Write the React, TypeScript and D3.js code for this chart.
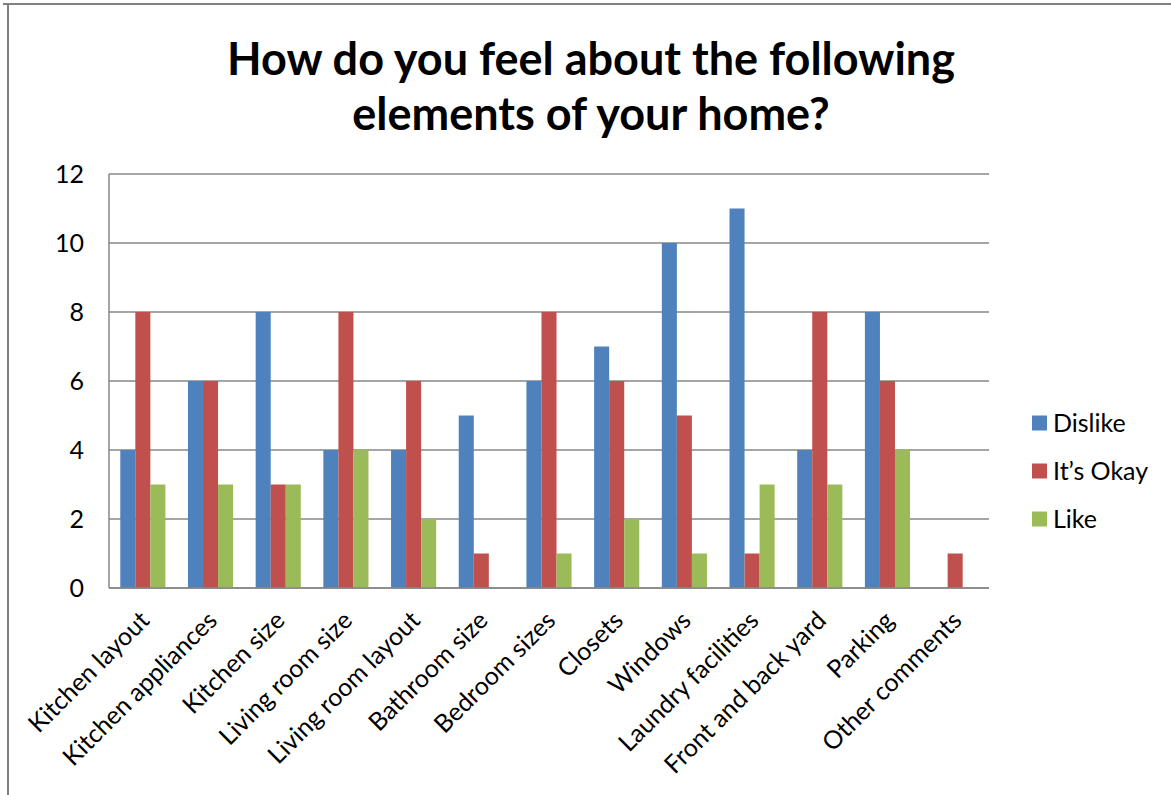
import React from "react";
import * as d3 from "d3";

const categories = [
  "Kitchen layout",
  "Kitchen appliances",
  "Kitchen size",
  "Living room size",
  "Living room layout",
  "Bathroom size",
  "Bedroom sizes",
  "Closets",
  "Windows",
  "Laundry facilities",
  "Front and back yard",
  "Parking",
  "Other comments",
];
const seriesNames = ["Dislike", "It\u2019s Okay", "Like"];
const dislike = [4, 6, 8, 4, 4, 5, 6, 7, 10, 11, 4, 8, 0];
const okay = [8, 6, 3, 8, 6, 1, 8, 6, 5, 1, 8, 6, 1];
const like = [3, 3, 3, 4, 2, 0, 1, 2, 1, 3, 3, 4, 0];
const seriesValues = [dislike, okay, like];
const colors = ["#4F81BD", "#C0504D", "#9BBB59"];
const yTicks = [0, 2, 4, 6, 8, 10, 12];
const titleLines = ["How do you feel about the following", "elements of your home?"];

const W = 1171;
const H = 795;
const FONT = "Lato, 'Open Sans', sans-serif";

export default function App() {
  const left = 109;
  const right = 989;
  const top = 174;
  const bottom = 588;

  const x = d3
    .scaleBand<string>()
    .domain(categories)
    .range([left, right])
    .paddingInner(1 / 3)
    .paddingOuter(1 / 6);
  const xs = d3
    .scaleBand<number>()
    .domain([0, 1, 2])
    .range([0, x.bandwidth()]);
  const y = d3.scaleLinear().domain([0, 12]).range([bottom, top]);

  const grid = "#878787";

  return (
    <svg
      width={W}
      height={H}
      style={{ position: "absolute", left: 0, top: 0, background: "#fff" }}
    >
      {/* outer frame */}
      <line x1={3} x2={W} y1={4} y2={4} stroke="#808080" strokeWidth={2} />
      <line x1={8} x2={8} y1={4} y2={H} stroke="#808080" strokeWidth={2} />

      {/* title */}
      {titleLines.map((t, i) => (
        <text
          key={i}
          x={591}
          y={75 + i * 55}
          textAnchor="middle"
          fontFamily={FONT}
          fontWeight="bold"
          fontSize={45}
          fill="#000"
        >
          {t}
        </text>
      ))}

      {/* gridlines */}
      {yTicks.map((t) => (
        <line
          key={t}
          x1={left}
          x2={right}
          y1={y(t)}
          y2={y(t)}
          stroke={grid}
          strokeWidth={1.5}
        />
      ))}
      {/* y axis line */}
      <line x1={left} x2={left} y1={top} y2={bottom} stroke={grid} strokeWidth={1.5} />

      {/* y tick labels */}
      {yTicks.map((t) => (
        <text
          key={t}
          x={84}
          y={y(t)}
          dy="0.35em"
          textAnchor="end"
          fontFamily={FONT}
          fontSize={25}
          fill="#000"
        >
          {t}
        </text>
      ))}

      {/* bars */}
      {seriesValues.map((vals, si) =>
        vals.map((v, ci) =>
          v > 0 ? (
            <rect
              key={`${si}-${ci}`}
              x={(x(categories[ci]) as number) + (xs(si) as number)}
              y={y(v)}
              width={xs.bandwidth()}
              height={bottom - y(v)}
              fill={colors[si]}
            />
          ) : null
        )
      )}
      {/* redraw baseline over bars */}
      <line x1={left} x2={right} y1={bottom} y2={bottom} stroke={grid} strokeWidth={1.5} />

      {/* category labels */}
      {categories.map((c) => {
        const cx = (x(c) as number) + x.bandwidth() / 2 + 8;
        const cy = 622;
        return (
          <text
            key={c}
            transform={`translate(${cx},${cy}) rotate(-45)`}
            textAnchor="end"
            fontFamily={FONT}
            fontSize={25}
            fill="#000"
          >
            {c}
          </text>
        );
      })}

      {/* legend */}
      {seriesNames.map((n, i) => {
        const cy = 423 + i * 48;
        return (
          <g key={n}>
            <rect x={1032} y={cy - 7.5} width={15} height={15} fill={colors[i]} />
            <text
              x={1053}
              y={cy}
              dy="0.35em"
              fontFamily={FONT}
              fontSize={25}
              fill="#000"
            >
              {n}
            </text>
          </g>
        );
      })}
    </svg>
  );
}
